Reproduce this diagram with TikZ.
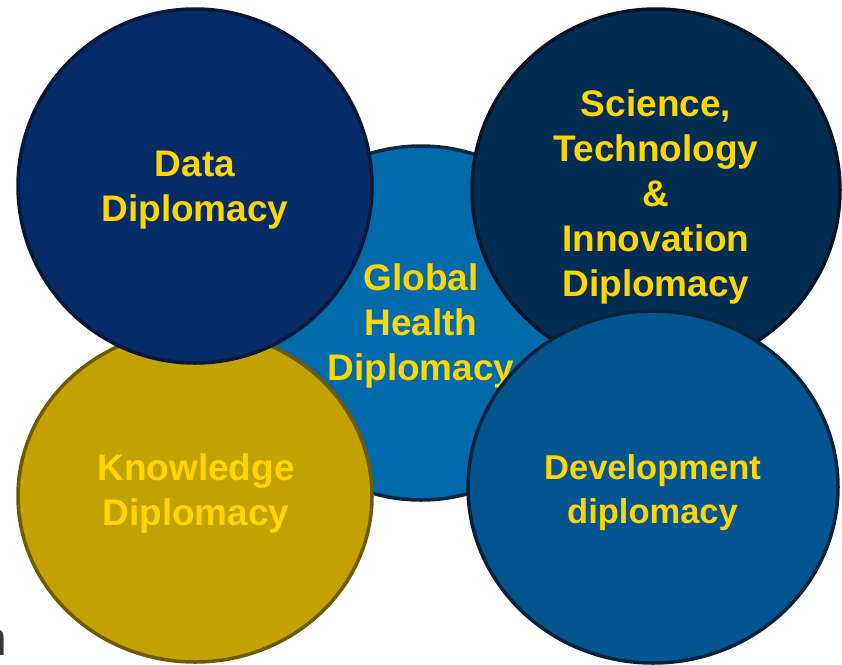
\documentclass[tikz,border=0pt]{standalone}
\usepackage{fontspec}
\setmainfont{Liberation Sans}
\usetikzlibrary{shapes.geometric}
\definecolor{cData}{RGB}{5,44,102}
\definecolor{cDataL}{RGB}{8,24,56}
\definecolor{cGlob}{RGB}{0,106,170}
\definecolor{cGlobL}{RGB}{8,40,70}
\definecolor{cSci}{RGB}{2,45,82}
\definecolor{cSciL}{RGB}{6,20,40}
\definecolor{cDev}{RGB}{3,85,143}
\definecolor{cDevL}{RGB}{8,34,60}
\definecolor{cKnow}{RGB}{194,162,0}
\definecolor{cKnowL}{RGB}{110,90,0}
\definecolor{cTxt}{RGB}{255,214,0}
\definecolor{cGray}{RGB}{55,55,55}
\tikzset{
  bubble/.style={ellipse, inner sep=0pt, line width=3.5pt},
  lbl/.style={text=cTxt, align=center, inner sep=0pt, font=\fontsize{37}{45}\selectfont\bfseries},
  lblsm/.style={text=cTxt, align=center, inner sep=0pt, font=\fontsize{34.5}{44}\selectfont\bfseries}
}
\begin{document}
\begin{tikzpicture}[x=1pt,y=-1pt]
\useasboundingbox (0,0) rectangle (842,664);
\fill[white] (0,0) rectangle (842,664);
% Global health (bottom layer)
\node[bubble, fill=cGlob, draw=cGlobL, minimum width=352pt, minimum height=354pt] (glob) at (421,323) {};
\node[lbl] (globt) at (421,326.4) {Global\\Health\\Diplomacy};
% Knowledge
\node[bubble, fill=cKnow, draw=cKnowL, minimum width=354pt, minimum height=332pt] (know) at (195,496) {};
\node[lbl] (knowt) at (196,493.7) {Knowledge\\Diplomacy};
% Data
\node[bubble, fill=cData, draw=cDataL, minimum width=354pt, minimum height=354pt] (data) at (195,186) {};
\node[lbl] (datat) at (195,190.2) {Data\\Diplomacy};
% Science
\node[bubble, fill=cSci, draw=cSciL, minimum width=368pt, minimum height=362pt] (sci) at (656,190) {};
\node[lbl] (scit) at (656,196.7) {Science,\\Technology\\\&\\Innovation\\Diplomacy};
% Development
\node[bubble, fill=cDev, draw=cDevL, minimum width=370pt, minimum height=352pt] (dev) at (653,487) {};
\node[lblsm] (devt) at (652.5,492.3) {Development\\diplomacy};
% cut-off letter at left edge
\node[text=cGray, inner sep=0pt, anchor=base east, font=\fontsize{48}{56}\selectfont] (frag) at (7,655) {n};
\end{tikzpicture}
\end{document}
